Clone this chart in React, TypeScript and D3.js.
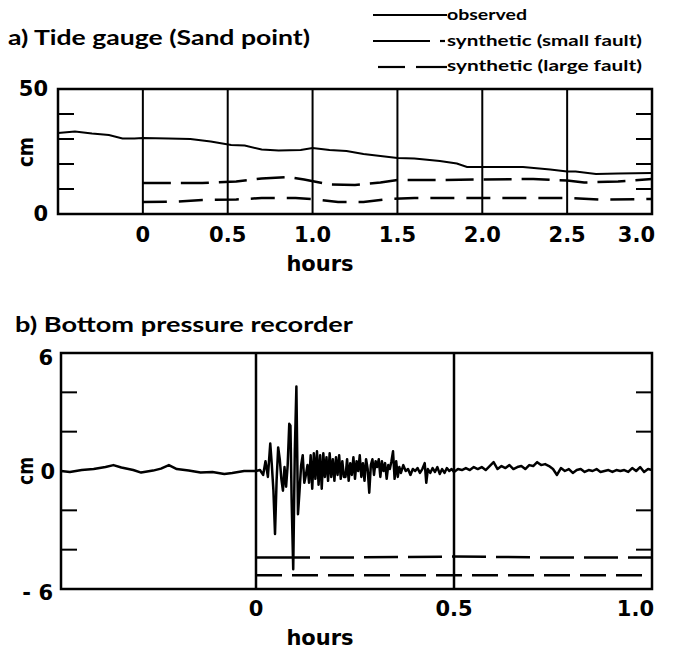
import React from "react";
import * as d3 from "d3";

// ---------- Panel a data (hours, cm) ----------
const tideObservedH = [-0.5, -0.4, -0.3, -0.2, -0.12, -0.05, 0, 0.15, 0.28, 0.4, 0.52, 0.6, 0.7, 0.8, 0.93, 1.0, 1.1, 1.2, 1.3, 1.4, 1.5, 1.6, 1.75, 1.85, 1.91, 2.0, 2.24, 2.4, 2.5, 2.55, 2.67, 2.8, 3.0];
const tideObservedCm = [32.4, 33, 32.2, 31.6, 30.2, 30.2, 30.4, 30.2, 30, 29, 27.6, 27.4, 25.8, 25.4, 25.6, 26.4, 25.6, 25.2, 24, 23.2, 22.4, 22.2, 21.2, 20.2, 18.8, 18.8, 18.8, 17.8, 17.0, 17, 16, 16.2, 16.4];
const tideSmallH = [0, 0.35, 0.55, 0.7, 0.85, 0.95, 1.1, 1.25, 1.4, 1.5, 1.75, 2.0, 2.3, 2.5, 2.6, 2.8, 3.0];
const tideSmallCm = [12.4, 12.4, 13, 14.2, 14.8, 13.8, 11.8, 11.6, 12.6, 13.6, 13.6, 13.8, 14, 13.4, 12.6, 13, 14];
const tideLargeH = [0, 0.2, 0.35, 0.55, 0.7, 0.9, 1.0, 1.15, 1.3, 1.45, 1.6, 2.0, 2.5, 2.7, 3.0];
const tideLargeCm = [4.8, 5.0, 5.6, 5.8, 6.4, 6.4, 6.0, 4.8, 4.8, 6.0, 6.4, 6.4, 6.4, 5.8, 6.0];
const tideXTicks = [0, 0.5, 1.0, 1.5, 2.0, 2.5, 3.0];
const tideXTickLabels = ["0", "0.5", "1.0", "1.5", "2.0", "2.5", "3.0"];
const tideGridH = [0, 0.5, 1.0, 1.5, 2.0, 2.5];
const tideMinorY = [10, 20, 30, 40];
const tideYLabels = [0, 50];

// ---------- Panel b data (hours, cm) ----------
const bprObservedH = [
  -0.5, -0.47, -0.44, -0.41, -0.38, -0.36, -0.34, -0.31, -0.29, -0.26, -0.24, -0.22, -0.2, -0.17, -0.14, -0.11, -0.08, -0.06, -0.03, 0,
  0.01, 0.018, 0.024, 0.03, 0.036, 0.04, 0.044, 0.048, 0.052, 0.056, 0.06, 0.064, 0.068, 0.072, 0.076, 0.08, 0.084, 0.087, 0.09, 0.094,
  0.098, 0.102, 0.106, 0.11, 0.114, 0.118, 0.122, 0.126, 0.13, 0.134, 0.138, 0.142, 0.146, 0.15, 0.154, 0.158, 0.162, 0.166, 0.17, 0.174,
  0.178, 0.182, 0.186, 0.19, 0.194, 0.198, 0.202, 0.206, 0.21, 0.214, 0.218, 0.222, 0.226, 0.23, 0.234, 0.238, 0.242, 0.246, 0.25, 0.254,
  0.258, 0.262, 0.266, 0.27, 0.274, 0.278, 0.282, 0.286, 0.29, 0.294, 0.298, 0.302, 0.306, 0.31, 0.314, 0.318, 0.322, 0.326, 0.33, 0.334,
  0.338, 0.342, 0.346, 0.35, 0.354, 0.358, 0.362, 0.366, 0.372, 0.378, 0.384, 0.39, 0.396, 0.402, 0.408, 0.414, 0.42, 0.426, 0.43, 0.434,
  0.44, 0.446, 0.452, 0.458, 0.464, 0.47, 0.476, 0.482, 0.488, 0.494, 0.5, 0.51, 0.52, 0.53, 0.54, 0.55, 0.56, 0.57, 0.58, 0.59,
  0.6, 0.61, 0.62, 0.63, 0.64, 0.65, 0.66, 0.67, 0.68, 0.69, 0.7, 0.71, 0.72, 0.73, 0.74, 0.75, 0.76, 0.77, 0.78, 0.79,
  0.8, 0.81, 0.82, 0.83, 0.84, 0.85, 0.86, 0.87, 0.88, 0.89, 0.9, 0.91, 0.92, 0.93, 0.94, 0.95, 0.96, 0.97, 0.98, 0.99, 1.0,
];
const bprObservedCm = [
  0, -0.05, 0.05, 0.1, 0.2, 0.3, 0.18, 0.05, -0.08, 0.02, 0.12, 0.3, 0.1, 0.02, -0.08, -0.05, -0.15, -0.1, 0.0, 0.0,
  0.05, -0.2, 0.5, -0.3, 1.4, 0.3, -1.0, -3.2, -0.5, 1.2, 0.6, -0.4, -1.0, 0.2, -0.8, 0.3, 2.4, 2.3, -1.5, -5.0,
  1.0, 4.3, -2.2, -1.0, 0.3, 0.8, -0.6, -0.2, 0.3, -0.6, 0.8, -0.9, 0.9, -0.4, 1.0, -0.7, 0.8, -0.9, 0.9, -0.3,
  0.7, -0.5, 0.9, -0.3, 0.6, -0.5, 0.7, -0.2, 0.8, -0.4, 0.5, -0.3, -0.3, 0.6, -0.5, 0.4, -0.2, 0.7, -0.4, 0.5,
  0.0, 0.8, -0.3, 0.4, -0.5, 0.6, 0.1, -1.1, 0.3, 0.6, -0.2, 0.5, 0.2, 0.6, -0.3, 0.5, 0.0, 0.4, -0.4, 0.3,
  0.1, 0.5, 1.0, -0.4, 0.5, -0.3, 0.2, -0.1, 0.3, 0.0, 0.1, -0.2, 0.1, 0.0, 0.15, -0.1, 0.1, 0.4, -0.6, 0.1,
  -0.1, 0.15, -0.05, 0.2, -0.15, 0.1, -0.1, 0.15, 0.0, 0.1, -0.05, 0.1, 0.05, 0.15, 0.05, 0.2, 0.1, 0.2, 0.05, 0.25,
  0.45, 0.1, 0.25, 0.15, 0.3, 0.1, 0.2, 0.25, 0.1, 0.3, 0.25, 0.45, 0.3, 0.35, 0.25, 0.1, -0.2, 0.15, 0.0, 0.1,
  -0.1, 0.05, 0.1, -0.05, 0.05, 0.0, 0.1, -0.05, 0.0, 0.05, -0.05, 0.05, 0.0, 0.05, -0.05, 0.15, 0.0, 0.2, -0.05, 0.1, 0.05,
];
const bprSmallH = [0, 0.2, 0.5, 0.75, 1.0];
const bprSmallCm = [-4.4, -4.4, -4.35, -4.4, -4.4];
const bprLargeH = [0, 0.5, 1.0];
const bprLargeCm = [-5.3, -5.3, -5.3];
const bprXTicks = [0, 0.5, 1.0];
const bprXTickLabels = ["0", "0.5", "1.0"];
const bprGridH = [0, 0.5];
const bprMinorY = [-4, -2, 2, 4];
const bprYLabels = [-6, 0, 6];

const legendLabels = ["observed", "synthetic (small fault)", "synthetic (large fault)"];

const FONT = "Lato, 'Open Sans', sans-serif";
const NUMFONT = "'DejaVu Sans', Verdana, sans-serif";

// dash style of the small-fault curve in panel b: a long first stroke, then regular dashes
const bprSmallDash = ["54 10", ...Array(10).fill("34 10")].join(" ");

type Pt = [number, number];
const zip = (a: number[], b: number[]): Pt[] => a.map((v, i) => [v, b[i]]);

export default function App() {
  // Panel a scales
  const xa = d3.scaleLinear().domain([-0.5, 3.0]).range([58, 652]);
  const ya = d3.scaleLinear().domain([0, 50]).range([214, 89]);
  // Panel b scales
  const xb = d3.scaleLinear().domain([-0.5, 1.0]).range([58, 652]);
  const yb = d3.scaleLinear().domain([-6, 6]).range([589, 353]);
  const bLeft = 61;

  const la = d3.line<Pt>().x((d) => xa(d[0])).y((d) => ya(d[1]));
  const lb = d3.line<Pt>().x((d) => Math.max(bLeft, xb(d[0]))).y((d) => yb(d[1]));

  const tickLen = 16;

  return (
    <svg width={675} height={653} style={{ display: "block", position: "absolute", left: 0, top: 0, background: "#fff" }} fontFamily={FONT}>
      <rect x={0} y={0} width={675} height={653} fill="#fff" />
      {/* ---------------- Panel a ---------------- */}
      <text x={8} y={45} fontSize={21} fontWeight={700} textLength={302} lengthAdjust="spacingAndGlyphs">a) Tide gauge (Sand point)</text>
      {/* legend */}
      <g stroke="#000" strokeWidth={2.2}>
        <line x1={373} x2={447} y1={15} y2={15} />
        <line x1={373} x2={430} y1={41} y2={41} />
        <line x1={440} x2={445} y1={41} y2={41} />
        <line x1={378} x2={405} y1={67} y2={67} />
        <line x1={416} x2={447} y1={67} y2={67} />
      </g>
      {legendLabels.map((t, i) => (
        <text key={t} x={447} y={20 + i * 25.5} fontSize={16} fontWeight={700} textLength={i === 0 ? 80 : 195} lengthAdjust="spacingAndGlyphs">{t}</text>
      ))}

      <g fill="none" stroke="#000">
        {tideGridH.map((h) => (
          <line key={h} x1={xa(h)} x2={xa(h)} y1={ya(50)} y2={ya(0)} strokeWidth={2} />
        ))}
        {tideMinorY.map((v) => (
          <g key={v} strokeWidth={2}>
            <line x1={xa(-0.5)} x2={xa(-0.5) + tickLen} y1={ya(v)} y2={ya(v)} />
            <line x1={xa(3) - tickLen} x2={xa(3)} y1={ya(v)} y2={ya(v)} />
          </g>
        ))}
        <path d={la(zip(tideObservedH, tideObservedCm)) || ""} strokeWidth={2} />
        <path d={la(zip(tideSmallH, tideSmallCm)) || ""} strokeWidth={2.5} strokeDasharray="28 10" />
        <path d={la(zip(tideLargeH, tideLargeCm)) || ""} strokeWidth={2.5} strokeDasharray="24 12" />
        <rect x={xa(-0.5)} y={ya(50)} width={xa(3) - xa(-0.5)} height={ya(0) - ya(50)} strokeWidth={2.5} />
      </g>
      <g fontFamily={NUMFONT} fontWeight={700}>
        {tideYLabels.map((v) => (
          <text key={v} x={48} y={ya(v) + 7} fontSize={21} textAnchor="end">{v}</text>
        ))}
        <text transform={`translate(33,${ya(24.8)}) rotate(-90)`} fontSize={21} textAnchor="middle" textLength={30} lengthAdjust="spacingAndGlyphs">cm</text>
        {tideXTicks.map((h, i) => (
          <text key={h} x={i === tideXTicks.length - 1 ? xa(h) + 3 : xa(h)} y={242} fontSize={21} textAnchor={i === tideXTicks.length - 1 ? "end" : "middle"}>{tideXTickLabels[i]}</text>
        ))}
        <text x={320} y={271} fontSize={21} textAnchor="middle">hours</text>
      </g>

      {/* ---------------- Panel b ---------------- */}
      <text x={15} y={332} fontSize={21} fontWeight={700} textLength={338} lengthAdjust="spacingAndGlyphs">b) Bottom pressure recorder</text>
      <g fill="none" stroke="#000">
        {bprGridH.map((h) => (
          <line key={h} x1={xb(h)} x2={xb(h)} y1={yb(6)} y2={yb(-6)} strokeWidth={2.5} />
        ))}
        {bprMinorY.map((v) => (
          <g key={v} strokeWidth={2}>
            <line x1={bLeft} x2={bLeft + tickLen} y1={yb(v)} y2={yb(v)} />
            <line x1={xb(1) - tickLen} x2={xb(1)} y1={yb(v)} y2={yb(v)} />
          </g>
        ))}
        <path d={lb(zip(bprObservedH, bprObservedCm)) || ""} strokeWidth={2.5} strokeLinejoin="round" />
        <path d={lb(zip(bprSmallH, bprSmallCm)) || ""} strokeWidth={2.5} strokeDasharray={bprSmallDash} />
        <path d={lb(zip(bprLargeH, bprLargeCm)) || ""} strokeWidth={2.5} strokeDasharray="26 10" />
        <rect x={bLeft} y={yb(6)} width={xb(1) - bLeft} height={yb(-6) - yb(6)} strokeWidth={2.5} />
      </g>
      <g fontFamily={NUMFONT} fontWeight={700}>
        {bprYLabels.map((v) => (
          <text key={v} x={v === 0 ? 55 : 53} y={v === 6 ? 365 : v === 0 ? 479 : 600} fontSize={21} textAnchor="end">{v === -6 ? "- 6" : String(v)}</text>
        ))}
        <text transform={`translate(33,${yb(0)}) rotate(-90)`} fontSize={21} textAnchor="middle" textLength={28} lengthAdjust="spacingAndGlyphs">cm</text>
        {bprXTicks.map((h, i) => (
          <text key={h} x={i === bprXTicks.length - 1 ? xb(h) + 2 : xb(h)} y={616} fontSize={21} textAnchor={i === bprXTicks.length - 1 ? "end" : "middle"}>{bprXTickLabels[i]}</text>
        ))}
        <text x={320} y={645} fontSize={21} textAnchor="middle">hours</text>
      </g>
    </svg>
  );
}
